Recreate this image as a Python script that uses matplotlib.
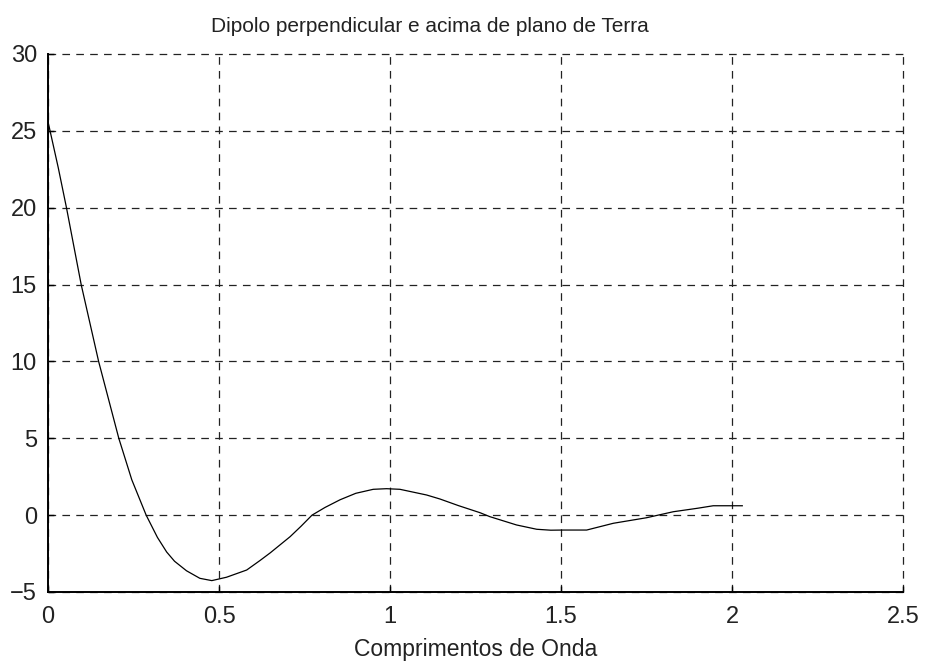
import numpy as np
import matplotlib
matplotlib.use("Agg")
import matplotlib.pyplot as plt

plt.rcParams["font.family"] = ["Liberation Sans Narrow", "Liberation Sans", "DejaVu Sans"]
plt.rcParams["lines.scale_dashes"] = False

# distancia em comprimentos de onda e valor correspondente
d = [0.0, 0.03, 0.054, 0.097, 0.148, 0.207, 0.245, 0.287, 0.32, 0.347,
     0.37, 0.405, 0.444, 0.479, 0.522, 0.581, 0.620, 0.65, 0.708, 0.74,
     0.772, 0.81, 0.854, 0.90, 0.951, 0.99, 1.029, 1.107, 1.146, 1.20,
     1.263, 1.292, 1.370, 1.429, 1.47, 1.507, 1.575, 1.653, 1.75, 1.828,
     1.90, 1.945, 2.03]
r = [25.6, 22.6, 20.0, 15.0, 10.0, 5.0, 2.3, 0.0, -1.45, -2.4,
     -3.0, -3.62, -4.11, -4.26, -4.04, -3.57, -2.95, -2.45, -1.4, -0.72,
     0.0, 0.5, 1.0, 1.42, 1.68, 1.72, 1.68, 1.31, 1.05, 0.62,
     0.16, -0.1, -0.64, -0.92, -0.98, -0.97, -0.97, -0.53, -0.17, 0.22,
     0.45, 0.61, 0.61]

xticks = [0, 0.5, 1, 1.5, 2, 2.5]
xticklabels = ["0", "0.5", "1", "1.5", "2", "2.5"]
yticks = [-5, 0, 5, 10, 15, 20, 25, 30]

fig = plt.figure(figsize=(9.32, 6.63), dpi=100, facecolor="white")
ax = fig.add_axes([0.0515, 0.1071, 0.9174, 0.8115])

ax.plot(d, r, color="black", linewidth=0.9)

ax.set_xlim(0, 2.5)
ax.set_ylim(-5, 30)
ax.set_xticks(xticks)
ax.set_xticklabels(xticklabels)
ax.set_yticks(yticks)

ax.grid(True, color="#222222", linestyle=(0, (5.5, 4.5)), linewidth=0.9)
for gl in ax.xaxis.get_gridlines() + ax.yaxis.get_gridlines():
    gl.set_clip_on(False)
ax.spines["top"].set_visible(False)
ax.spines["right"].set_visible(False)
ax.spines["left"].set_linewidth(1.4)
ax.spines["bottom"].set_linewidth(1.4)
ax.tick_params(direction="in", length=4, width=1, labelsize=17, colors="black")
ax.tick_params(axis="x", pad=10)
ax.tick_params(axis="y", pad=8)
for lbl in ax.get_xticklabels() + ax.get_yticklabels():
    lbl.set_color("#222222")

ax.set_title("Dipolo perpendicular e acima de plano de Terra", fontsize=15,
             x=0.447, y=1.0, pad=16, color="#222222")
ax.set_xlabel("Comprimentos de Onda", fontsize=16.5, labelpad=7, color="#222222")

fig.savefig("out.png", dpi=100, facecolor="white")
